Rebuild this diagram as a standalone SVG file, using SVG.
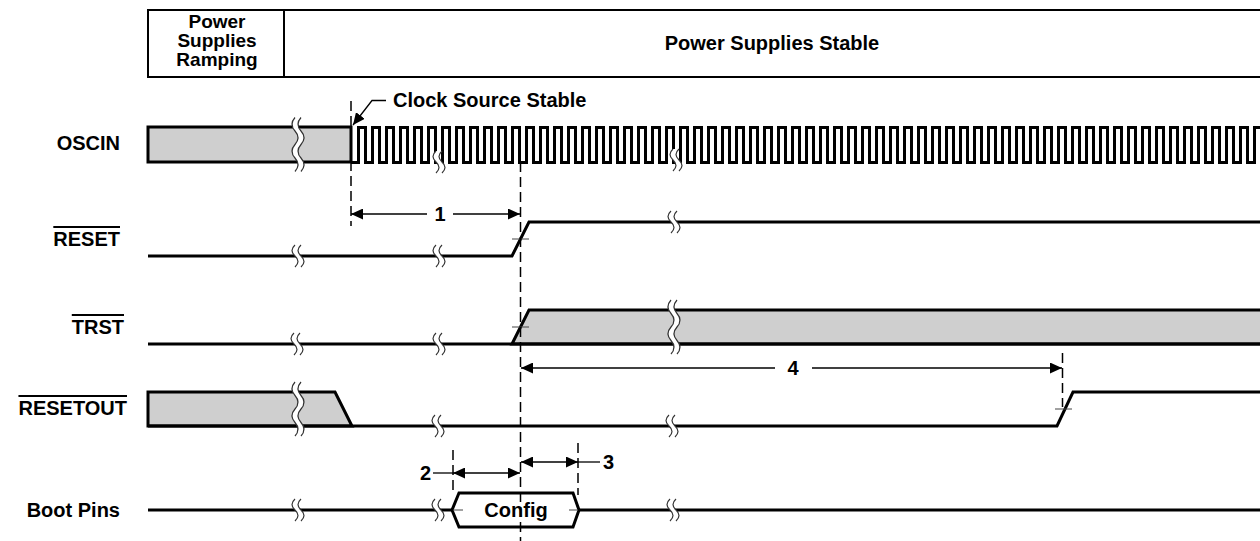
<svg xmlns="http://www.w3.org/2000/svg" width="1260" height="541" viewBox="0 0 1260 541">
<style>
.lbl{font-family:"Liberation Sans",Arial,Helvetica,sans-serif;font-weight:bold;font-size:20px;fill:#000}
.hdr{font-size:19px}
.wave{fill:none;stroke:#000;stroke-width:3;stroke-linejoin:miter}
.clk{fill:none;stroke:#000;stroke-width:3;stroke-linejoin:miter;shape-rendering:crispEdges}
.gray{fill:#cfcfcf;stroke:#000;stroke-width:3;stroke-linejoin:miter}
.dash{fill:none;stroke:#000;stroke-width:1.5;stroke-dasharray:10 5}
.dim{fill:none;stroke:#000;stroke-width:1.3}
.tick{stroke:#444;stroke-width:1}
.frame{fill:none;stroke:#000;stroke-width:2}
.bw{fill:#fff;stroke:none}
.bl{fill:none;stroke:#333;stroke-width:1.2}
</style>
<defs>
<marker id="ah" markerWidth="12" markerHeight="11" refX="12" refY="5.5" orient="auto-start-reverse" markerUnits="userSpaceOnUse">
<path d="M0,0 L12,5.5 L0,11 Z" fill="#000"/>
</marker>
<g id="brk">
<path class="bw" d="M-3,-11 Q-9,-5.5 -3,0 Q3,5.5 -3,11 L3,11 Q9,5.5 3,0 Q-3,-5.5 3,-11 Z"/>
<path class="bl" d="M-3,-11 Q-9,-5.5 -3,0 Q3,5.5 -3,11 M3,-11 Q-3,-5.5 3,0 Q9,5.5 3,11"/>
</g>
<g id="brk2">
<path class="bw" d="M-3,-27 Q-9,-20.25 -3,-13.5 Q3,-6.75 -3,0 Q-9,6.75 -3,13.5 Q3,20.25 -3,27 L3,27 Q9,20.25 3,13.5 Q-3,6.75 3,0 Q9,-6.75 3,-13.5 Q-3,-20.25 3,-27 Z"/>
<path class="bl" d="M-3,-27 Q-9,-20.25 -3,-13.5 Q3,-6.75 -3,0 Q-9,6.75 -3,13.5 Q3,20.25 -3,27 M3,-27 Q-3,-20.25 3,-13.5 Q9,-6.75 3,0 Q-3,6.75 3,13.5 Q9,20.25 3,27"/>
</g>
</defs>

<g id="header">
<rect class="frame" x="148" y="10" width="1114" height="67"/>
<line class="frame" x1="284" y1="10" x2="284" y2="77"/>
<text class="lbl hdr" text-anchor="middle" x="217" y="28">Power</text>
<text class="lbl hdr" text-anchor="middle" x="217" y="47">Supplies</text>
<text class="lbl hdr" text-anchor="middle" x="217" y="66">Ramping</text>
<text class="lbl" text-anchor="middle" x="772" y="50">Power Supplies Stable</text>
</g>

<g id="oscin">
<text class="lbl" text-anchor="end" x="120" y="150">OSCIN</text>
<rect class="gray" x="148" y="127" width="203" height="35"/>
<path class="clk" d="M351,162
h7v-35h7v35h7v-35h7v35h7v-35h7v35h7v-35h7v35h7v-35h7v35h7v-35h7v35
h7v-35h7v35h7v-35h7v35h7v-35h7v35h7v-35h7v35h7v-35h7v35h7v-35h7v35
h7v-35h7v35h7v-35h7v35h7v-35h7v35h7v-35h7v35h7v-35h7v35h7v-35h7v35
h7v-35h7v35h7v-35h7v35h7v-35h7v35h7v-35h7v35h7v-35h7v35h7v-35h7v35
h7v-35h7v35h7v-35h7v35h7v-35h7v35h7v-35h7v35h7v-35h7v35h7v-35h7v35
h7v-35h7v35h7v-35h7v35h7v-35h7v35h7v-35h7v35h7v-35h7v35h7v-35h7v35
h7v-35h7v35h7v-35h7v35h7v-35h7v35h7v-35h7v35h7v-35h7v35h7v-35h7v35
h7v-35h7v35h7v-35h7v35h7v-35h7v35h7v-35h7v35h7v-35h7v35h7v-35h7v35
h7v-35h7v35h7v-35h7v35h7v-35h7v35h7v-35h7v35h7v-35h7v35h7v-35h7v35
h7v-35h7v35h7v-35h7v35h7v-35h7v35h7v-35h7v35h7v-35h7v35h7v-35h7v35
h7v-35h7v35h7v-35h7v35h7v-35h7v35h7v-35h7v35h7v-35h7v35h7v-35h7v35"/>
<use href="#brk2" x="298" y="144.5"/>
<use href="#brk" x="439" y="162"/>
<use href="#brk" x="676" y="160"/>
</g>

<g id="clock-note">
<text class="lbl" x="393" y="107">Clock Source Stable</text>
</g>

<g id="reset">
<text class="lbl" text-anchor="end" x="120" y="246" style="text-decoration:overline">RESET</text>
<path class="wave" d="M148,256 H512 L529,222 H1262"/>
<line class="tick" x1="512" y1="239" x2="529" y2="239"/>
<use href="#brk" x="298" y="256"/>
<use href="#brk" x="439" y="256"/>
<use href="#brk" x="674" y="222"/>
</g>

<g id="trst">
<text class="lbl" text-anchor="end" x="124" y="334" style="text-decoration:overline">TRST</text>
<path class="gray" d="M512,344 L529,310 H1263 V344 Z"/>
<path class="wave" d="M148,344 H1262"/>
<line class="tick" x1="512" y1="327" x2="529" y2="327"/>
<use href="#brk" x="297" y="344"/>
<use href="#brk" x="439" y="344"/>
<use href="#brk2" x="674" y="327"/>
</g>

<g id="resetout">
<text class="lbl" text-anchor="end" x="127" y="415" style="text-decoration:overline">RESETOUT</text>
<path class="gray" d="M148,392 H335 L352,426 H148 Z"/>
<path class="wave" d="M148,426 H1057 L1073,392 H1262"/>
<line class="tick" x1="1055" y1="409" x2="1072" y2="409"/>
<use href="#brk2" x="298" y="409"/>
<use href="#brk" x="438" y="426"/>
<use href="#brk" x="672" y="426"/>
</g>

<g id="bootpins">
<text class="lbl" text-anchor="end" x="120" y="517">Boot Pins</text>
<path class="wave" d="M148,510 H452 M579,510 H1262"/>
<path class="wave" d="M452,510 L459,493 H573 L579,510 L573,527 H459 Z" fill="#fff"/>
<line class="tick" x1="454" y1="510" x2="463" y2="510"/>
<line class="tick" x1="569" y1="510" x2="577" y2="510"/>
<text class="lbl" text-anchor="middle" x="516" y="517">Config</text>
<use href="#brk" x="298" y="510"/>
<use href="#brk" x="438" y="510"/>
<use href="#brk" x="673" y="510"/>
</g>

<g id="connectors">
<line class="dash" x1="351" y1="101" x2="351" y2="226"/>
<line class="dash" x1="520.5" y1="162" x2="520.5" y2="541"/>
<line class="dash" x1="1062.5" y1="353" x2="1062.5" y2="407"/>
<line class="dash" x1="453" y1="450" x2="453" y2="495"/>
<line class="dash" x1="578" y1="443" x2="578" y2="495"/>
<polyline class="dim" points="386,100.5 372,100.5 353,125" marker-end="url(#ah)"/>
<line class="dim" x1="427" y1="214" x2="351" y2="214" marker-end="url(#ah)"/>
<line class="dim" x1="453" y1="214" x2="520" y2="214" marker-end="url(#ah)"/>
<text class="lbl" text-anchor="middle" x="440" y="221">1</text>
<line class="dim" x1="775" y1="368" x2="521" y2="368" marker-end="url(#ah)"/>
<line class="dim" x1="812" y1="368" x2="1062" y2="368" marker-end="url(#ah)"/>
<text class="lbl" text-anchor="middle" x="793" y="375">4</text>
<line class="dim" x1="453" y1="473" x2="520" y2="473" marker-start="url(#ah)" marker-end="url(#ah)"/>
<line class="dim" x1="433" y1="473" x2="453" y2="473"/>
<text class="lbl" text-anchor="end" x="431" y="480">2</text>
<line class="dim" x1="521" y1="462" x2="578" y2="462" marker-start="url(#ah)" marker-end="url(#ah)"/>
<line class="dim" x1="578" y1="462" x2="600" y2="462"/>
<text class="lbl" x="603" y="469">3</text>
</g>
</svg>
